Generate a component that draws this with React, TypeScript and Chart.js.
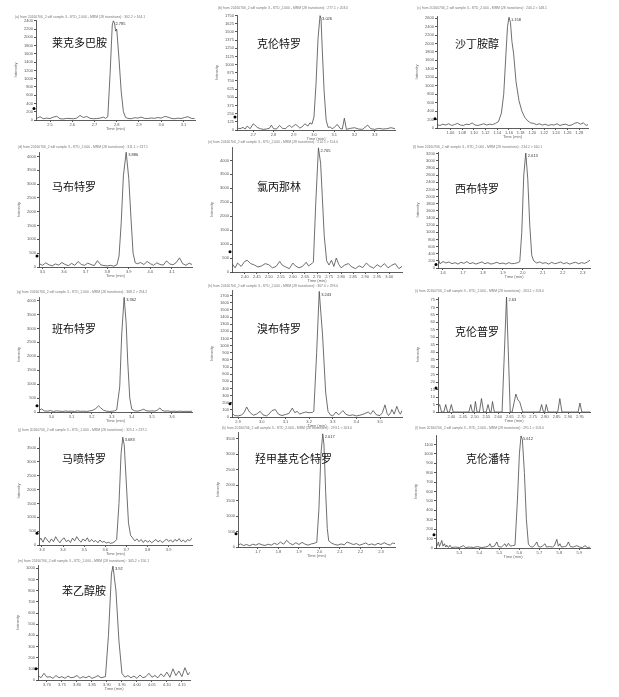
import React, { useEffect, useRef } from "react";
import { Chart, registerables } from "chart.js";
Chart.register(...registerables);

const FONT = "'Liberation Sans', Arial, sans-serif";
Chart.defaults.font.family = FONT;

// ---------- names ----------
const names = ["莱克多巴胺", "克伦特罗", "沙丁胺醇", "马布特罗", "氯丙那林", "西布特罗", "班布特罗", "溴布特罗", "克伦普罗", "马喷特罗", "羟甲基克仑特罗", "克伦潘特", "苯乙醇胺"];
const headers = [
  "(a) from 20160706_2 sdf sample 3 - STD_2.000 - MRM (28 transitions) : 302.2 > 164.1",
  "(b) from 20160706_2 sdf sample 3 - STD_2.000 - MRM (28 transitions) : 277.1 > 203.0",
  "(c) from 20160706_2 sdf sample 3 - STD_2.000 - MRM (28 transitions) : 240.2 > 148.1",
  "(d) from 20160706_2 sdf sample 3 - STD_2.000 - MRM (28 transitions) : 311.1 > 237.1",
  "(e) from 20160706_2 sdf sample 3 - STD_2.000 - MRM (28 transitions) : 214.1 > 154.0",
  "(f) from 20160706_2 sdf sample 3 - STD_2.000 - MRM (28 transitions) : 234.2 > 160.1",
  "(g) from 20160706_2 sdf sample 3 - STD_2.000 - MRM (28 transitions) : 368.2 > 294.2",
  "(h) from 20160706_2 sdf sample 3 - STD_2.000 - MRM (28 transitions) : 367.0 > 293.0",
  "(i) from 20160706_2 sdf sample 3 - STD_2.000 - MRM (28 transitions) : 263.1 > 203.0",
  "(j) from 20160706_2 sdf sample 3 - STD_2.000 - MRM (28 transitions) : 325.1 > 237.1",
  "(k) from 20160706_2 sdf sample 3 - STD_2.000 - MRM (28 transitions) : 293.1 > 203.0",
  "(l) from 20160706_2 sdf sample 3 - STD_2.000 - MRM (28 transitions) : 291.1 > 203.0",
  "(m) from 20160706_2 sdf sample 3 - STD_2.000 - MRM (28 transitions) : 345.2 > 150.1",
];
const peakLabels = ["2.785", "3.026", "1.158", "3.886", "2.705", "2.013", "3.362", "3.243", "2.63", "3.683", "2.017", "5.612", "3.92"];

// ---------- data ----------
const t1 = [2.44,2.455,2.47,2.485,2.50,2.515,2.53,2.545,2.56,2.575,2.59,2.605,2.62,2.635,2.65,2.665,2.68,2.695,2.71,2.725,2.74,2.75,2.76,2.77,2.78,2.785,2.79,2.795,2.80,2.81,2.82,2.83,2.84,2.85,2.865,2.88,2.895,2.91,2.925,2.94,2.955,2.97,2.985,3.00,3.015,3.03,3.045,3.06,3.075,3.09,3.105,3.12,3.135,3.15];
const v1 = [40,80,30,45,35,70,90,30,25,40,35,30,45,110,60,85,40,30,35,45,70,40,80,1100,2300,2400,2350,2150,2200,1500,700,200,60,40,30,55,45,70,40,35,50,40,60,45,85,70,40,30,45,35,60,80,40,35];

const t2 = [2.62,2.635,2.65,2.66,2.67,2.685,2.70,2.71,2.72,2.735,2.75,2.765,2.78,2.79,2.80,2.815,2.83,2.845,2.86,2.87,2.88,2.89,2.90,2.91,2.92,2.93,2.94,2.955,2.97,2.98,2.99,3.00,3.01,3.02,3.03,3.035,3.04,3.05,3.06,3.07,3.08,3.09,3.10,3.115,3.13,3.14,3.15,3.16,3.18,3.20,3.22,3.24,3.265,3.28,3.30,3.32,3.34,3.36,3.38,3.40];
const v2 = [30,20,40,15,60,20,95,70,40,20,10,15,25,75,20,15,70,25,20,55,70,40,65,85,60,30,45,95,60,110,90,200,700,1400,1750,1700,1300,600,150,40,45,20,40,85,20,15,180,10,25,35,15,10,75,20,10,25,15,20,35,20];

const t3 = [1.037,1.042,1.047,1.052,1.057,1.062,1.067,1.072,1.077,1.082,1.087,1.092,1.097,1.102,1.107,1.112,1.117,1.122,1.127,1.132,1.137,1.142,1.147,1.151,1.155,1.1575,1.160,1.1625,1.165,1.168,1.172,1.177,1.182,1.187,1.192,1.197,1.202,1.207,1.212,1.217,1.222,1.227,1.232,1.237,1.242,1.247,1.252,1.257,1.262,1.267,1.272,1.277,1.282,1.287,1.292,1.295];
const v3 = [80,60,90,70,100,60,80,110,70,60,90,80,120,70,60,80,100,70,90,80,110,150,350,800,1800,2400,2620,2500,2050,1750,1100,650,400,250,170,120,110,80,100,70,90,60,80,70,100,60,80,90,60,70,110,130,90,120,60,80];

const t4 = [3.485,3.50,3.515,3.53,3.545,3.56,3.575,3.59,3.605,3.62,3.635,3.65,3.665,3.68,3.695,3.71,3.725,3.74,3.755,3.77,3.785,3.80,3.815,3.83,3.845,3.855,3.865,3.875,3.888,3.90,3.91,3.92,3.93,3.94,3.955,3.97,3.985,4.00,4.015,4.03,4.045,4.06,4.075,4.09,4.105,4.12,4.135,4.15,4.165,4.18,4.193];
const v4 = [120,60,150,80,40,110,70,160,90,50,130,60,200,90,60,140,90,50,230,80,50,40,60,30,80,400,1600,3300,4150,3200,1800,500,150,120,160,90,200,120,60,150,90,70,220,110,80,160,330,120,60,140,90];

const t5 = [2.347,2.36,2.37,2.385,2.40,2.41,2.425,2.44,2.455,2.47,2.485,2.50,2.515,2.53,2.545,2.555,2.57,2.585,2.60,2.61,2.625,2.64,2.655,2.665,2.675,2.685,2.695,2.706,2.715,2.722,2.73,2.74,2.75,2.76,2.77,2.78,2.79,2.80,2.815,2.83,2.845,2.86,2.875,2.89,2.905,2.92,2.935,2.95,2.965,2.98,2.995,3.01,3.025,3.04,3.053];
const v5 = [300,150,320,200,380,420,300,250,180,220,300,260,150,200,380,250,180,120,320,220,150,200,350,220,280,350,2500,4450,3900,2700,1300,400,250,420,200,500,280,150,250,300,180,120,220,160,320,200,140,260,180,300,150,240,300,120,200];

const t6 = [1.575,1.585,1.60,1.615,1.63,1.645,1.66,1.675,1.69,1.705,1.72,1.735,1.75,1.765,1.78,1.795,1.81,1.825,1.84,1.855,1.87,1.885,1.90,1.915,1.93,1.945,1.96,1.975,1.985,1.995,2.005,2.015,2.025,2.035,2.045,2.055,2.07,2.085,2.10,2.115,2.13,2.145,2.16,2.175,2.19,2.205,2.22,2.235,2.25,2.265,2.28,2.295,2.31,2.325,2.337];
const v6 = [260,120,180,140,170,120,150,110,160,130,180,120,150,110,140,170,120,150,110,130,160,120,140,110,150,120,130,150,180,1000,2600,3220,2500,1200,350,200,140,170,130,150,110,160,120,140,170,120,150,110,140,160,120,150,130,170,220];

const t7 = [2.938,2.95,2.965,2.98,2.995,3.01,3.025,3.04,3.055,3.07,3.085,3.10,3.115,3.13,3.145,3.16,3.175,3.19,3.205,3.22,3.235,3.245,3.26,3.275,3.29,3.305,3.315,3.325,3.34,3.35,3.362,3.372,3.38,3.39,3.40,3.415,3.43,3.445,3.46,3.47,3.485,3.50,3.515,3.53,3.54,3.55,3.565,3.58,3.595,3.61,3.625,3.64,3.655,3.67,3.685,3.70];
const v7 = [60,110,40,30,50,20,40,30,20,35,25,30,20,40,25,30,20,40,60,120,220,150,60,30,20,30,40,80,900,2800,4120,3200,1800,500,100,40,30,60,100,50,30,40,30,80,145,60,30,40,20,30,20,30,20,25,20,30];

const t8 = [2.874,2.885,2.90,2.915,2.925,2.936,2.948,2.964,2.978,2.993,3.005,3.02,3.03,3.043,3.057,3.07,3.085,3.10,3.115,3.129,3.14,3.15,3.16,3.171,3.186,3.20,3.214,3.22,3.232,3.243,3.25,3.257,3.27,3.28,3.29,3.30,3.314,3.325,3.343,3.355,3.37,3.385,3.40,3.415,3.43,3.45,3.46,3.471,3.485,3.50,3.51,3.521,3.53,3.536,3.545,3.55,3.56,3.571,3.58,3.586,3.593];
const v8 = [50,20,15,30,60,140,70,25,40,80,30,15,40,90,105,40,20,35,50,125,60,80,40,55,70,60,65,80,900,1760,1450,1150,350,80,30,15,70,30,90,40,20,30,15,25,40,70,40,90,30,20,60,170,50,20,60,105,40,150,70,40,90];

const t9 = [2.343,2.35,2.358,2.368,2.376,2.384,2.392,2.40,2.408,2.42,2.44,2.46,2.475,2.483,2.49,2.497,2.503,2.51,2.52,2.529,2.538,2.549,2.557,2.565,2.57,2.576,2.584,2.60,2.617,2.636,2.652,2.66,2.676,2.685,2.692,2.705,2.72,2.74,2.76,2.778,2.786,2.794,2.80,2.806,2.814,2.83,2.845,2.855,2.864,2.873,2.89,2.91,2.93,2.942,2.95,2.958,2.975,2.993];
const v9 = [3,5,0,0,5,0,0,5,0,0,0,0,0,5,0,0,7,0,0,9,0,0,5,0,0,7,0,0,0,77,0,0,12,8,7,0,0,0,0,0,5,0,0,5,0,0,0,0,9,0,0,0,0,0,6,0,0,0];

const t10 = [3.286,3.295,3.305,3.315,3.325,3.335,3.345,3.355,3.365,3.375,3.385,3.395,3.405,3.415,3.425,3.435,3.445,3.455,3.465,3.475,3.485,3.495,3.505,3.515,3.525,3.535,3.545,3.555,3.565,3.575,3.585,3.595,3.605,3.615,3.625,3.635,3.645,3.654,3.665,3.675,3.683,3.69,3.70,3.71,3.72,3.73,3.74,3.75,3.76,3.77,3.78,3.79,3.80,3.81,3.82,3.83,3.84,3.85,3.86,3.87,3.88,3.89,3.90,3.91,3.92,3.93,3.94,3.95,3.96,3.97,3.98,3.99,4.00,4.011];
const v10 = [150,250,100,280,180,90,220,120,300,170,80,200,260,120,180,90,250,150,300,180,100,220,140,260,110,200,120,160,80,180,100,130,70,100,60,80,120,200,1500,3300,3890,3600,2200,800,350,250,150,220,120,200,90,180,100,160,80,140,200,110,170,90,140,220,130,180,100,200,140,230,120,180,100,200,150,250];

const t11 = [1.603,1.615,1.63,1.645,1.66,1.675,1.69,1.705,1.72,1.735,1.75,1.765,1.78,1.795,1.81,1.825,1.84,1.855,1.87,1.885,1.90,1.915,1.93,1.945,1.96,1.975,1.987,1.997,2.007,2.016,2.022,2.03,2.038,2.045,2.06,2.075,2.09,2.105,2.12,2.135,2.15,2.165,2.18,2.195,2.21,2.225,2.24,2.255,2.27,2.285,2.30,2.315,2.33,2.345,2.355,2.368];
const v11 = [60,100,50,80,40,90,60,110,70,50,90,60,120,80,160,90,215,120,70,140,80,150,90,60,100,120,150,1200,3000,3660,3300,1800,600,200,120,80,60,100,70,160,120,80,110,60,90,130,70,100,60,120,80,140,90,60,130,110];

const t12 = [5.183,5.19,5.195,5.20,5.205,5.212,5.218,5.225,5.232,5.237,5.245,5.253,5.26,5.28,5.30,5.32,5.33,5.35,5.37,5.39,5.41,5.43,5.445,5.453,5.46,5.475,5.487,5.495,5.51,5.52,5.528,5.535,5.545,5.555,5.565,5.578,5.59,5.60,5.608,5.615,5.625,5.635,5.645,5.655,5.665,5.675,5.687,5.695,5.705,5.715,5.728,5.735,5.75,5.765,5.775,5.787,5.795,5.803,5.81,5.825,5.835,5.845,5.855,5.87,5.887,5.90,5.915,5.928,5.94,5.953];
const v12 = [10,30,64,15,40,80,20,45,10,30,5,30,5,10,5,25,5,10,5,15,5,10,20,45,10,20,64,15,10,30,45,15,50,20,25,30,500,1000,1190,1150,800,300,40,15,10,25,64,15,10,20,45,10,15,10,25,92,20,45,10,15,20,64,15,10,25,10,5,25,5,10];

const t13 = [3.67,3.68,3.69,3.70,3.71,3.72,3.73,3.74,3.75,3.76,3.77,3.78,3.79,3.80,3.81,3.82,3.83,3.84,3.85,3.86,3.87,3.88,3.895,3.905,3.915,3.92,3.93,3.94,3.95,3.96,3.97,3.98,3.99,4.00,4.01,4.02,4.03,4.04,4.05,4.06,4.07,4.08,4.09,4.10,4.11,4.12,4.13,4.14,4.15,4.16,4.17,4.177];
const v13 = [40,20,60,25,30,15,40,20,30,15,35,20,25,40,15,30,20,35,15,25,40,20,30,400,950,1020,800,350,60,25,40,20,35,15,45,20,30,60,25,40,20,55,30,70,25,100,40,80,30,110,45,70];

// x tick labels
const xt1 = ["2.5","2.6","2.7","2.8","2.9","3.0","3.1"];
const xt2 = ["2.7","2.8","2.9","3.0","3.1","3.2","3.3"];
const xt3 = ["1.06","1.08","1.10","1.12","1.14","1.16","1.18","1.20","1.22","1.24","1.26","1.28"];
const xt4 = ["3.5","3.6","3.7","3.8","3.9","4.0","4.1"];
const xt5 = ["2.40","2.45","2.50","2.55","2.60","2.65","2.70","2.75","2.80","2.85","2.90","2.95","3.00"];
const xt6 = ["1.6","1.7","1.8","1.9","2.0","2.1","2.2","2.3"];
const xt7 = ["3.0","3.1","3.2","3.3","3.4","3.5","3.6"];
const xt8 = ["2.9","3.0","3.1","3.2","3.3","3.4","3.5"];
const xt9 = ["2.40","2.45","2.50","2.55","2.60","2.65","2.70","2.75","2.80","2.85","2.90","2.95"];
const xt10 = ["3.3","3.4","3.5","3.6","3.7","3.8","3.9"];
const xt11 = ["1.7","1.8","1.9","2.0","2.1","2.2","2.3"];
const xt12 = ["5.3","5.4","5.5","5.6","5.7","5.8","5.9"];
const xt13 = ["3.70","3.75","3.80","3.85","3.90","3.95","4.00","4.05","4.10","4.15"];

// x ranges, y ranges, y tick steps, y axis markers
const xMins = [2.437, 2.62, 1.037, 3.484, 2.347, 1.575, 2.938, 2.874, 2.343, 3.286, 1.603, 5.183, 3.67];
const xMaxs = [3.152, 3.40, 1.295, 4.193, 3.053, 2.337, 3.70, 3.593, 2.993, 4.011, 2.368, 5.953, 4.177];
const yMaxs = [2420, 1760, 2650, 4160, 4480, 3250, 4130, 1780, 77, 3900, 3720, 1200, 1030];
const yTops = [2400, 1750, 2600, 4000, 4000, 3200, 4000, 1700, 75, 3500, 3500, 1100, 1000];
const ySteps = [200, 125, 200, 500, 500, 200, 500, 100, 5, 500, 500, 100, 100];
const markers = [280, 200, 220, 400, 730, 100, 220, 185, 16, 420, 430, 140, 100];

const times = [t1, t2, t3, t4, t5, t6, t7, t8, t9, t10, t11, t12, t13];
const ints = [v1, v2, v3, v4, v5, v6, v7, v8, v9, v10, v11, v12, v13];
const xTickLabels = [xt1, xt2, xt3, xt4, xt5, xt6, xt7, xt8, xt9, xt10, xt11, xt12, xt13];

// ---------- layout (pixels) ----------
const layouts = [
  { L: 36, T: 20, R: 195, B: 120, hx: 15, hy: 17, nx: 52, ny: 42 },
  { L: 237, T: 15, R: 395, B: 130, hx: 218, hy: 8, nx: 257, ny: 43 },
  { L: 437, T: 16, R: 588, B: 128, hx: 417, hy: 8, nx: 455, ny: 43 },
  { L: 39, T: 152, R: 192, B: 267, hx: 18, hy: 147, nx: 52, ny: 186 },
  { L: 232, T: 147, R: 402, B: 272, hx: 208, hy: 142, nx: 257, ny: 186 },
  { L: 438, T: 152, R: 590, B: 268, hx: 413, hy: 147, nx: 455, ny: 188 },
  { L: 39, T: 297, R: 192, B: 412, hx: 17, hy: 292, nx: 52, ny: 328 },
  { L: 232, T: 290, R: 402, B: 417, hx: 208, hy: 286, nx: 257, ny: 328 },
  { L: 438, T: 297, R: 590, B: 412, hx: 415, hy: 291, nx: 455, ny: 331 },
  { L: 39, T: 437, R: 192, B: 545, hx: 18, hy: 430, nx: 62, ny: 458 },
  { L: 238, T: 432, R: 395, B: 547, hx: 222, hy: 428, nx: 255, ny: 458 },
  { L: 436, T: 435, R: 590, B: 548, hx: 415, hy: 428, nx: 466, ny: 458 },
  { L: 38, T: 565, R: 190, B: 680, hx: 18, hy: 561, nx: 62, ny: 590 },
];

const YW = 30;
const XH = 12;
const PR = 10;

function Panel({ i }: { i: number }) {
  const ref = useRef<HTMLCanvasElement>(null);
  const lay = layouts[i];
  const cl = lay.L - YW;
  const ct = lay.hy - 4;
  const cw = lay.R + PR - cl;
  const ch = lay.B + XH - ct;

  useEffect(() => {
    const canvas = ref.current;
    if (!canvas) return;
    const time = times[i];
    const vals = ints[i];
    const labels = xTickLabels[i];
    const yTicks: number[] = [];
    for (let v = 0; v <= yTops[i] + 1e-9; v += ySteps[i]) yTicks.push(v);

    const overlay = {
      id: "overlay" + i,
      afterDraw(chart: any) {
        const { ctx, chartArea, scales } = chart;
        const xs = scales.x;
        const ys = scales.y;
        ctx.save();
        ctx.textBaseline = "middle";
        ctx.textAlign = "left";
        ctx.fillStyle = "#777";
        ctx.font = `3.4px ${FONT}`;
        ctx.fillText(headers[i], lay.hx - cl, lay.hy - ct);
        ctx.font = `4px ${FONT}`;
        ctx.fillStyle = "#666";
        ctx.textAlign = "center";
        ctx.fillText("Time (min)", (chartArea.left + chartArea.right) / 2, chartArea.bottom + 9);
        ctx.save();
        ctx.translate(chartArea.left - 20, (chartArea.top + chartArea.bottom) / 2);
        ctx.rotate(-Math.PI / 2);
        ctx.fillText("Intensity", 0, 0);
        ctx.restore();
        let mi = 0;
        for (let k = 1; k < vals.length; k++) if (vals[k] > vals[mi]) mi = k;
        const px = xs.getPixelForValue(time[mi]);
        const py = ys.getPixelForValue(vals[mi]);
        ctx.textAlign = "left";
        ctx.fillStyle = "#333";
        ctx.fillText(peakLabels[i], px + 2, py + 3);
        const my = ys.getPixelForValue(markers[i]);
        ctx.fillStyle = "#000";
        ctx.beginPath();
        ctx.arc(chartArea.left - 2, my, 1.5, 0, Math.PI * 2);
        ctx.fill();
        ctx.restore();
      },
    };

    const chart = new Chart(canvas, {
      type: "line",
      data: {
        datasets: [
          {
            data: time.map((t, k) => ({ x: t, y: vals[k] })),
            borderColor: "#4a4a4a",
            borderWidth: 0.8,
            pointRadius: 0,
            tension: 0,
            fill: false,
          },
        ],
      },
      options: {
        animation: false,
        responsive: false,
        devicePixelRatio: 1,
        layout: { padding: { top: lay.T - ct, right: PR, left: 0, bottom: 0 } },
        plugins: { legend: { display: false }, tooltip: { enabled: false }, title: { display: false } },
        scales: {
          x: {
            type: "linear",
            min: xMins[i],
            max: xMaxs[i],
            afterBuildTicks: (s: any) => {
              s.ticks = labels.map((l) => ({ value: parseFloat(l) }));
            },
            afterFit: (s: any) => {
              s.height = XH;
            },
            ticks: {
              autoSkip: false,
              maxRotation: 0,
              minRotation: 0,
              padding: 0,
              font: { size: 4 },
              color: "#555",
              callback: (_v: any, idx: number) => labels[idx],
            },
            grid: { drawOnChartArea: false, drawTicks: true, tickLength: 2, color: "#555" },
            border: { color: "#333", width: 0.8 },
          },
          y: {
            type: "linear",
            min: 0,
            max: yMaxs[i],
            afterBuildTicks: (s: any) => {
              s.ticks = yTicks.map((v) => ({ value: v }));
            },
            afterFit: (s: any) => {
              s.width = YW;
            },
            ticks: {
              autoSkip: false,
              padding: 1,
              font: { size: 4 },
              color: "#555",
              callback: (v: any) => String(v),
            },
            grid: { drawOnChartArea: false, drawTicks: true, tickLength: 2, color: "#555" },
            border: { color: "#333", width: 0.8 },
          },
        },
      } as any,
      plugins: [overlay],
    });
    return () => chart.destroy();
  }, [i]);

  return (
    <>
      <canvas
        ref={ref}
        width={cw}
        height={ch}
        style={{ position: "absolute", left: cl, top: ct, width: cw, height: ch }}
      />
      <div
        style={{
          position: "absolute",
          left: lay.nx,
          top: lay.ny - 7,
          fontFamily: "'Noto Sans CJK SC', sans-serif",
          fontSize: 11,
          lineHeight: "14px",
          color: "#111",
          whiteSpace: "nowrap",
        }}
      >
        {names[i]}
      </div>
    </>
  );
}

export default function App() {
  return (
    <div
      style={{
        position: "absolute",
        left: 0,
        top: 0,
        width: 619,
        height: 697,
        background: "#fff",
        overflow: "hidden",
      }}
    >
      {names.map((_, i) => (
        <Panel key={i} i={i} />
      ))}
    </div>
  );
}
